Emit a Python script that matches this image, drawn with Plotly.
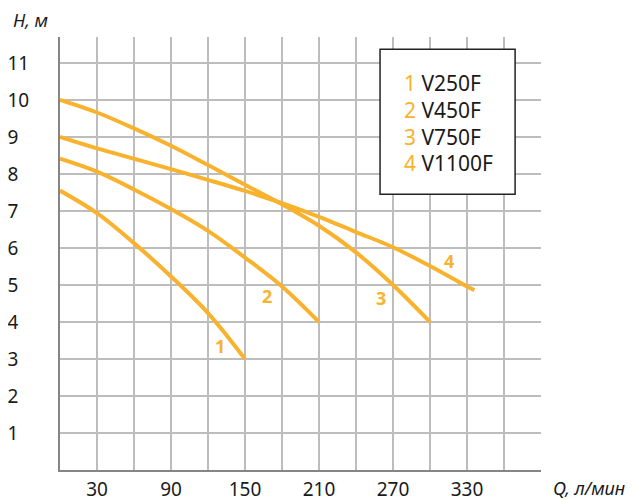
import plotly.graph_objects as go

# ---- data ----
q1 = [0, 30, 60, 90, 120, 150]
h1 = [7.55, 6.94, 6.13, 5.23, 4.24, 3.0]

q2 = [0, 30, 60, 90, 120, 150, 180, 210]
h2 = [8.41, 8.06, 7.58, 7.05, 6.46, 5.74, 4.96, 4.0]

q3 = [0, 30, 60, 90, 120, 150, 180, 210, 240, 270, 300]
h3 = [10.0, 9.66, 9.23, 8.76, 8.24, 7.71, 7.18, 6.6, 5.88, 5.0, 4.0]

q4 = [0, 30, 60, 90, 120, 150, 180, 210, 240, 270, 300, 330, 336]
h4 = [9.0, 8.69, 8.41, 8.13, 7.84, 7.54, 7.21, 6.84, 6.43, 6.02, 5.51, 4.96, 4.86]

curve_ids = ["1", "2", "3", "4"]
models = ["V250F", "V450F", "V750F", "V1100F"]
label_x = [130.0, 167.6, 260.0, 315.0]
label_y = [3.36, 4.7, 4.64, 5.65]

x_tickvals = [30, 60, 90, 120, 150, 180, 210, 240, 270, 300, 330, 360]
x_ticktext = ["30", "", "90", "", "150", "", "210", "", "270", "", "330", ""]
y_tickvals = [1, 2, 3, 4, 5, 6, 7, 8, 9, 10, 11]
y_ticktext = [str(v) for v in y_tickvals]

ORANGE = "#F9B22E"
GRID = "#BDBDBD"
AXIS = "#858585"
TEXT = "#1a1a1a"
FONT = "Noto Sans"

fig = go.Figure()
for q, h in [(q1, h1), (q2, h2), (q3, h3), (q4, h4)]:
    fig.add_trace(go.Scatter(x=q, y=h, mode="lines",
                             line=dict(color=ORANGE, width=4, shape="spline", smoothing=1.0),
                             showlegend=False, hoverinfo="skip"))

for cid, lx, ly in zip(curve_ids, label_x, label_y):
    fig.add_annotation(x=lx, y=ly, text="<b>" + cid + "</b>", showarrow=False,
                       font=dict(family=FONT, size=18, color=ORANGE))

# legend box
fig.add_shape(type="rect", xref="x", yref="y", x0=259.5, x1=369, y0=7.45, y1=11.37,
              line=dict(color="#222222", width=1.5), fillcolor="white", layer="above")
for i, (cid, m) in enumerate(zip(curve_ids, models)):
    fig.add_annotation(x=277, y=10.45 - i * 0.72, xanchor="left", showarrow=False,
                       text='<span style="color:%s">%s</span> %s' % (ORANGE, cid, m),
                       font=dict(family=FONT, size=21, color=TEXT))

# axis titles
fig.add_annotation(xref="paper", yref="paper", x=0, y=1.0, xshift=-49, yshift=17,
                   xanchor="left", yanchor="middle", showarrow=False,
                   text="<i>H, м</i>", font=dict(family=FONT, size=18, color=TEXT))
fig.add_annotation(xref="paper", yref="paper", x=1.0, y=0, xshift=10, yshift=-18,
                   xanchor="left", yanchor="middle", showarrow=False,
                   text="<i>Q, л/мин</i>", font=dict(family=FONT, size=18, color=TEXT))

# the page body has an 8px margin, so the figure is sized/margined to compensate
fig.update_layout(
    width=626, height=491,
    margin=dict(l=52, r=93, t=29, b=29, autoexpand=False),
    paper_bgcolor="white", plot_bgcolor="white",
    font=dict(family=FONT, size=18, color=TEXT),
    xaxis=dict(range=[0, 390], tickvals=x_tickvals, ticktext=x_ticktext,
               tickfont=dict(size=19),
               showgrid=True, gridcolor=GRID, gridwidth=1.5,
               showline=True, linecolor=AXIS, linewidth=2, automargin=False,
               zeroline=False, ticks="", ticklabelstandoff=1),
    yaxis=dict(range=[0, 11.7], tickvals=y_tickvals,
               ticktext=[t if len(t) == 2 else t + "\u2007" for t in y_ticktext],
               tickfont=dict(size=19),
               showgrid=True, gridcolor=GRID, gridwidth=1.5,
               showline=True, linecolor=AXIS, linewidth=2, automargin=False,
               zeroline=False, ticks="", ticklabelstandoff=25),
)

fig.write_html("out.html")
